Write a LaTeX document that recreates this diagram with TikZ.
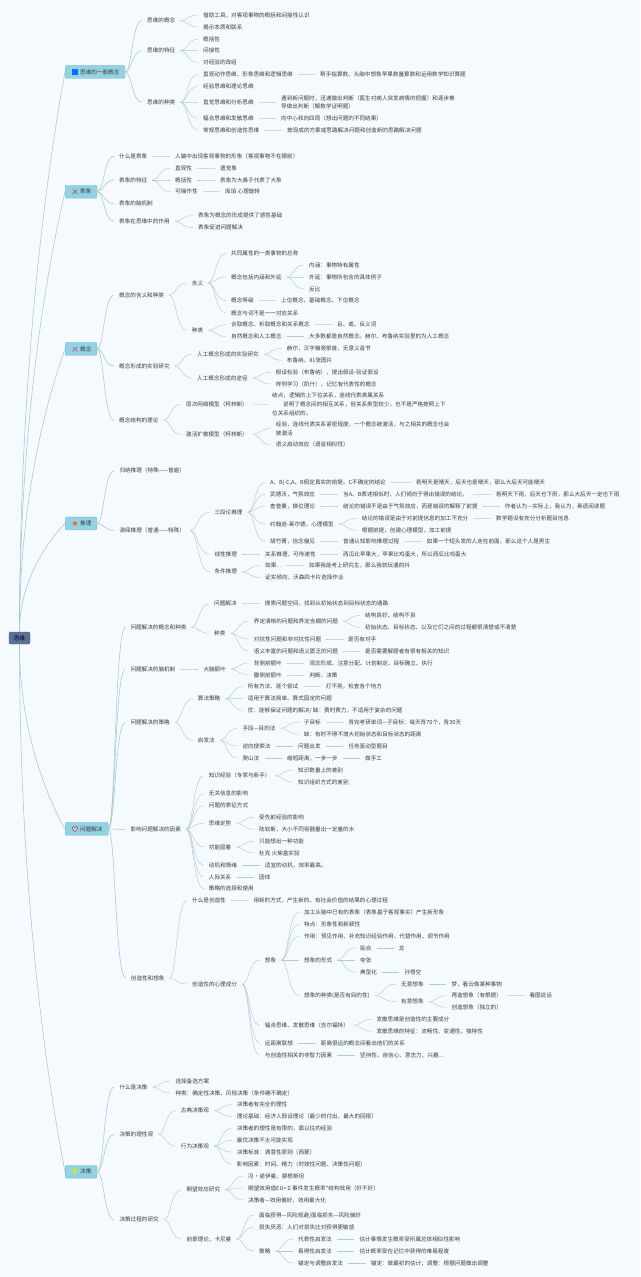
\documentclass[tikz,border=0pt]{standalone}
\usepackage{fontspec}
\setmainfont{Noto Sans CJK SC}
\usetikzlibrary{calc}
\definecolor{bgc}{HTML}{F5FAFF}
\definecolor{conn}{HTML}{B4CBCE}
\definecolor{rootconn}{HTML}{A6C9C6}
\definecolor{boxfill}{HTML}{93D2E3}
\definecolor{boxline}{HTML}{7FBDD0}
\definecolor{rootfill}{HTML}{5A6E96}
\definecolor{txt}{HTML}{3C3C3C}
\tikzset{
  lblbase/.style={anchor=west,inner xsep=5pt,inner ysep=0pt,xshift=-5pt,
    font=\fontsize{5.6}{8.7}\selectfont,text=txt},
  lbl/.style={lblbase,text height=4.8pt,text depth=0.8pt},
  lblmulti/.style={lblbase,align=left},
  topicbox/.style={anchor=west,inner sep=0pt,minimum height=12.8pt,fill=boxfill,draw=boxline,line width=0.3pt,
    rounded corners=1pt,font=\fontsize{5.6}{7}\selectfont,text=txt},
  rootbox/.style={anchor=center,inner sep=0pt,minimum width=21pt,minimum height=12pt,fill=rootfill,draw=rootfill,
    rounded corners=1.2pt,font=\fontsize{5.6}{7}\selectfont,text=black!80!blue},
  link/.style={draw=conn,line width=0.45pt},
  rootlink/.style={draw=rootconn,line width=0.55pt}
}
\newcommand{\N}[4]{\node[lbl] (#1) at (#2,#3) {#4};}
\newcommand{\NM}[4]{\node[lblmulti] (#1) at (#2,#3) {#4};}
\newcommand{\B}[3]{\node[topicbox] (#1) at (65,#2) {\hspace*{15pt}#3\hspace*{5.7pt}};}
\newcommand{\C}[2]{\draw[link] (#1.east) .. controls ($(#1.east)!0.4!(#2.west |- #1.east)$) and ($(#1.east |- #2.west)!0.4!(#2.west)$) .. (#2.west);}
\newcommand{\BC}[2]{\draw[rootlink] (#1.east) .. controls ($(#1.east)!0.4!(#2.west |- #1.east)$) and ($(#1.east |- #2.west)!0.4!(#2.west)$) .. (#2.west);}
\newcommand{\R}[2]{%
  \coordinate (h1) at ($(root.#1)!0.55!(#2.west)$);
  \coordinate (h2) at ($(root.#1)!0.8!(#2.west)$);
  \coordinate (h3) at ($(root.#1)!0.45!(#2.west)$);
  \draw[rootlink] (root.#1) .. controls (root.#1 |- h3) and (h1 |- h2) .. (#2.west);}
\begin{document}
\begin{tikzpicture}[x=1pt,y=-1pt]
\useasboundingbox (0,0) rectangle (640,1277);
\fill[bgc] (0,0) rectangle (640,1277);

\node[rootbox] (root) at (19.5,638) {思维};
\B{bxa}{72}{思维的一般概念}
\B{bxb}{191.7}{表象}
\B{bxc}{349}{概念}
\B{bxd}{523.5}{推理}
\B{bxe}{829}{问题解决}
\B{bxf}{1171.7}{决策}
\R{north}{bxa}\R{north}{bxb}\R{north}{bxc}\R{north}{bxd}\R{south}{bxe}\R{south}{bxf}

% icons
\fill[blue!55!cyan] (72,69) rectangle (77.6,74.8);
\draw[red!35!gray!90!black,line width=0.6pt] (72.5,194) -- (77.5,189.5) (73,189.5) -- (77.5,194);
\draw[magenta!70!gray,line width=0.6pt] (72.5,351.5) -- (77.5,347) (73,347) -- (77.5,351.5);
\fill[orange!75!red,shift={(75,523.3)}] (0,-3) -- (0.71,-0.97) -- (2.85,-0.93) -- (1.14,0.37) -- (1.76,2.43) -- (0,1.2) -- (-1.76,2.43) -- (-1.14,0.37) -- (-2.85,-0.93) -- (-0.71,-0.97) -- cycle;
\draw[red!40!black!70,fill=gray!40,line width=0.5pt,shift={(75,829)}] (0,2.6) .. controls (-3.6,0) and (-3.2,-2.6) .. (-1.4,-2.6) .. controls (-0.6,-2.6) and (0,-2) .. (0,-1.5) .. controls (0,-2) and (0.6,-2.6) .. (1.4,-2.6) .. controls (3.2,-2.6) and (3.6,0) .. (0,2.6) -- cycle;
\fill[yellow!75!green!80!white] (75,1170.8) circle (2.5);
\fill[yellow!60!green!70!white] (73.8,1172.5) rectangle (76.2,1175);

% ===== 思维的一般概念
\N{a1}{147}{20.7}{思维的概念}
\N{a11}{203}{15}{借助工具，对客观事物的概括和间接性认识}
\N{a12}{203}{27}{揭示本质和联系}
\N{a2}{147}{50.7}{思维的特征}
\N{a21}{203}{39}{概括性}
\N{a22}{203}{50.7}{间接性}
\N{a23}{203}{62.3}{对经验的改组}
\N{a3}{147}{102.3}{思维的种类}
\N{a31}{203}{74.3}{直观动作思维、形象思维和逻辑思维}
\N{a31r}{320}{74.3}{帮手指算数、头脑中想象苹果数量算数和运用数学知识算题}
\N{a32}{203}{86.3}{经验思维和理论思维}
\N{a33}{203}{102.3}{直觉思维和分析思维}
\NM{a33r}{281}{102.3}{遇到新问题时，迅速做出判断（医生对病人突发病情的把握）和逐步推\\导做出判断（解数学证明题）}
\N{a34}{203}{118.3}{辐合思维和发散思维}
\N{a34r}{281}{118.3}{向中心和向四周（想出问题的不同结果）}
\N{a35}{203}{130.3}{常规思维和创造性思维}
\N{a35r}{287}{130.3}{按现成的方案或思路解决问题和创造新的思路解决问题}
\BC{bxa}{a1}\BC{bxa}{a2}\BC{bxa}{a3}
\C{a1}{a11}\C{a1}{a12}\C{a2}{a21}\C{a2}{a22}\C{a2}{a23}
\C{a3}{a31}\C{a3}{a32}\C{a3}{a33}\C{a3}{a34}\C{a3}{a35}
\C{a31}{a31r}\C{a33}{a33r}\C{a34}{a34r}\C{a35}{a35r}

% ===== 表象
\N{b1}{119}{156.3}{什么是表象}
\N{b1r}{175}{156.3}{人脑中出现客观事物的形象（客观事物不在眼前）}
\N{b2}{119}{180}{表象的特征}
\N{b21}{175}{168.3}{直观性}
\N{b21r}{220}{168.3}{遗觉象}
\N{b22}{175}{180}{概括性}
\N{b22r}{220}{180}{表象为大鼻子代表了大象}
\N{b23}{175}{191.7}{可操作性}
\N{b23r}{225}{191.7}{库珀 心理旋转}
\N{b3}{119}{203.7}{表象的脑机制}
\N{b4}{119}{221.3}{表象在思维中的作用}
\N{b41}{198}{215.7}{表象为概念的形成提供了感性基础}
\N{b42}{198}{227.7}{表象促进问题解决}
\BC{bxb}{b1}\BC{bxb}{b2}\BC{bxb}{b3}\BC{bxb}{b4}
\C{b1}{b1r}\C{b2}{b21}\C{b2}{b22}\C{b2}{b23}\C{b21}{b21r}\C{b22}{b22r}\C{b23}{b23r}\C{b4}{b41}\C{b4}{b42}

% ===== 概念
\N{c1}{119}{295}{概念的含义和种类}
\N{c11}{191.7}{283}{含义}
\N{c111}{231}{253.3}{共同属性的一类事物的总称}
\N{c112}{231}{277}{概念包括内涵和外延}
\N{c1121}{309}{265}{内涵：事物特有属性}
\N{c1122}{309}{277}{外延：事物所包含的具体例子}
\N{c1123}{309}{289}{反比}
\N{c113}{231}{300.7}{概念等级}
\N{c113r}{281}{300.7}{上位概念、基础概念、下位概念}
\N{c114}{231}{313}{概念与词不是一一对应关系}
\N{c12}{191.7}{330.3}{种类}
\N{c121}{231}{324.7}{合取概念、析取概念和关系概念}
\N{c121r}{337}{324.7}{且、或、反义词}
\N{c122}{231}{336.5}{自然概念和人工概念}
\N{c122r}{309}{336.5}{大多数都是自然概念。赫尔、布鲁纳实验里的为人工概念}
\N{c2}{119}{366}{概念形成的实验研究}
\N{c21}{197}{354.3}{人工概念形成的实验研究}
\N{c211}{286.7}{348.3}{赫尔，汉字偏旁部首，无意义音节}
\N{c212}{286.7}{360.3}{布鲁纳，81张图片}
\N{c22}{197}{378}{人工概念形成的途径}
\N{c221}{275.7}{372.3}{假设检验（布鲁纳），提出假设-验证假设}
\N{c222}{275.7}{384}{样例学习（凯什），记忆有代表性的概念}
\N{c3}{119}{420.3}{概念结构的理论}
\N{c31}{186}{404}{层次网络模型（柯林斯）}
\NM{c31r}{272}{404.4}{结点，逻辑的上下位关系，连线代表类属关系\\\hspace*{11pt}说明了概念间的相互关系，但关系类型较少，也不是严格按照上下\\位关系组织的。}
\N{c32}{186}{434.3}{激活扩散模型（柯林斯）}
\NM{c321}{275.7}{428.5}{经验，连线代表关系紧密程度，一个概念被激活，与之相关的概念也会\\被激活}
\N{c322}{275.7}{444.7}{语义启动效应（语音相似性）}
\BC{bxc}{c1}\BC{bxc}{c2}\BC{bxc}{c3}
\C{c1}{c11}\C{c1}{c12}\C{c11}{c111}\C{c11}{c112}\C{c11}{c113}\C{c11}{c114}
\C{c112}{c1121}\C{c112}{c1122}\C{c112}{c1123}\C{c113}{c113r}
\C{c12}{c121}\C{c12}{c122}\C{c121}{c121r}\C{c122}{c122r}
\C{c2}{c21}\C{c2}{c22}\C{c21}{c211}\C{c21}{c212}\C{c22}{c221}\C{c22}{c222}
\C{c3}{c31}\C{c3}{c32}\C{c31}{c31r}\C{c32}{c321}\C{c32}{c322}

% ===== 推理
\N{d1}{119.3}{470.7}{归纳推理（特殊——普遍）}
\N{d2}{119.3}{530.3}{演绎推理（普通——特殊）}
\N{d21}{214.3}{512.3}{三段论推理}
\N{d211}{270}{482.7}{A、B) C,A、B假定真实的前提。C不确定的结论}
\N{d211r}{416}{482.7}{若明天是晴天，后天也是晴天，那么大后天可能晴天}
\N{d212}{270}{494.3}{武德沃，气氛效应}
\N{d212a}{343}{494.3}{当A、B表述相似时，人们倾向于得出错误的结论。}
\N{d212b}{496}{494.3}{若明天下雨，后天也下雨，那么大后天一定也下雨}
\N{d213}{270}{506}{查普曼，换位理论}
\N{d213a}{343}{506}{结论的错误不是由于气氛效应，而是错误的解释了前提}
\N{d213b}{504.7}{506}{作者认为—实际上，我认为，英语阅读题}
\N{d214}{270}{524}{约翰逊-莱尔德，心理模型}
\N{d2141}{361.7}{518.3}{结论的错误是由于对前提信息的加工不充分}
\N{d2141r}{496}{518.3}{数学题没有充分分析题目信息}
\N{d2142}{361.7}{530.3}{根据前提，创建心理模型，加工前提}
\N{d215}{270}{541.7}{胡竹菁，信念偏见}
\N{d215a}{343}{541.7}{普通认知影响推理过程}
\N{d215b}{426.7}{541.7}{如果一个短头发的人走在前面，那么这个人是男生}
\N{d22}{214.3}{554}{线性推理}
\N{d22a}{265}{554}{关系推理，可传递性}
\N{d22b}{343}{554}{西瓜比苹果大，苹果比鸡蛋大，所以西瓜比鸡蛋大}
\N{d23}{214.3}{571.7}{条件推理}
\N{d231}{265}{565.7}{如果...}
\N{d231r}{309}{565.7}{如果我能考上研究生，那么我就玩通的抖}
\N{d232}{265}{577.5}{证实倾向，沃森四卡片选择作业}
\BC{bxd}{d1}\BC{bxd}{d2}
\C{d2}{d21}\C{d2}{d22}\C{d2}{d23}
\C{d21}{d211}\C{d21}{d212}\C{d21}{d213}\C{d21}{d214}\C{d21}{d215}
\C{d211}{d211r}\C{d212}{d212a}\C{d212a}{d212b}\C{d213}{d213a}\C{d213a}{d213b}
\C{d214}{d2141}\C{d214}{d2142}\C{d2141}{d2141r}\C{d215}{d215a}\C{d215a}{d215b}
\C{d22}{d22a}\C{d22a}{d22b}\C{d23}{d231}\C{d23}{d232}\C{d231}{d231r}

% ===== 问题解决
\N{e1}{130.3}{627.3}{问题解决的概念和种类}
\N{e11}{214}{603.7}{问题解决}
\N{e11r}{264.7}{603.7}{搜索问题空间，找到从初始状态到目标状态的通路}
\N{e12}{214}{633.3}{种类}
\N{e121}{253.7}{621.3}{界定清晰的问题和界定含糊的问题}
\N{e1211}{365}{615.3}{结构良好、结构不良}
\N{e1212}{365}{627.3}{初始状态、目标状态、以及它们之间的过程都很清楚或不清楚}
\N{e122}{253.7}{639}{对抗性问题和非对抗性问题}
\N{e122r}{348}{639}{是否有对手}
\N{e123}{253.7}{651}{语义丰富的问题和语义匮乏的问题}
\N{e123r}{365}{651}{是否需要解题者有很有相关的知识}
\N{e2}{130.3}{669}{问题解决的脑机制}
\N{e21}{203.3}{669}{大脑额叶}
\N{e211}{253.7}{663}{背侧前额叶}
\N{e211r}{309.3}{663}{观念形成、注意分配、计划制定、目标确立、执行}
\N{e212}{253.7}{675}{腹侧前额叶}
\N{e212r}{309.3}{675}{判断、决策}
\N{e3}{130.3}{722.3}{问题解决的策略}
\N{e31}{197.7}{698.7}{算法策略}
\N{e311}{247.7}{686.7}{所有方法、逐个尝试}
\N{e311r}{325.7}{686.7}{灯不亮，检查各个地方}
\N{e312}{247.7}{698.7}{适用于算法简单、算式固定的问题}
\N{e313}{247.7}{710.3}{优：能够保证问题的解决/ 缺：费时费力，不适用于复杂的问题}
\N{e32}{197.7}{740.3}{启发法}
\N{e321}{242.3}{728.3}{手段—目的法}
\N{e3211}{303.7}{722.3}{子目标}
\N{e3211r}{348.3}{722.3}{背完考研单词—子目标：每天背70个，背30天}
\N{e3212}{303.7}{734.3}{缺：有时不得不增大初始状态和目标状态的距离}
\N{e322}{242.3}{746}{逆向搜索法}
\N{e322a}{298}{746}{问题出发}
\N{e322b}{348.3}{746}{任务驱动型题目}
\N{e323}{242.3}{758}{爬山法}
\N{e323a}{287}{758}{缩短距离，一步一步}
\N{e323b}{365}{758}{做手工}
\N{e4}{130.3}{829.3}{影响问题解决的因素}
\N{e41}{208.7}{775.7}{知识经验（专家与新手）}
\N{e411}{298}{770}{知识数量上的差别}
\N{e412}{298}{782}{知识组织方式的差别}
\N{e42}{208.7}{793.7}{无关信息的影响}
\N{e43}{208.7}{805.7}{问题的表征方式}
\N{e44}{208.7}{823.3}{思维定势}
\N{e441}{259}{817.3}{受先前经验的影响}
\N{e442}{259}{829.3}{陆钦斯，大小不同容器量出一定量的水}
\N{e45}{208.7}{847}{功能固着}
\N{e451}{259}{841.3}{只能想出一种功能}
\N{e452}{259}{853}{杜克 火柴盒实验}
\N{e46}{208.7}{865}{动机和情绪}
\N{e46r}{264.7}{865}{适宜的动机，效率最高。}
\N{e47}{208.7}{877}{人际关系}
\N{e47r}{259}{877}{团体}
\N{e48}{208.7}{888.7}{策略的选择和使用}
\N{e5}{130.7}{978}{创造性和想象}
\N{e51}{192}{900.3}{什么是创造性}
\N{e51r}{253.3}{900.3}{用新的方式，产生新的、有社会价值的结果的心理过程}
\N{e52}{192}{984}{创造性的心理成分}
\N{e521}{264.7}{960}{想象}
\N{e5211}{304}{912.3}{加工头脑中已有的表象（表象基于客观事实）产生新形象}
\N{e5212}{304}{924.3}{特点：形象性和新颖性}
\N{e5213}{304}{936.3}{作用：预见作用、补充知识经验作用、代替作用、调节作用}
\N{e5214}{304}{960}{想象的形式}
\N{e52141}{360}{948}{贴合}
\N{e52141r}{398.7}{948}{龙}
\N{e52142}{360}{960}{夸张}
\N{e52143}{360}{972}{典型化}
\N{e52143r}{404.3}{972}{孙悟空}
\N{e5215}{304}{995.7}{想象的种类(是否有目的性)}
\N{e52151}{401}{984}{无意想象}
\N{e52151r}{451.3}{984}{梦，看云像某种事物}
\N{e52152}{401}{1001.7}{有意想象}
\N{e521521}{451.3}{995.7}{再造想象（有根据）}
\N{e521521r}{529.3}{995.7}{看图说话}
\N{e521522}{451.3}{1007.3}{创造想象（独立的）}
\N{e522}{264.7}{1025.3}{辐合思维、发散思维（吉尔福特）}
\N{e5221}{376.3}{1019.3}{发散思维是创造性的主要成分}
\N{e5222}{376.3}{1031.3}{发散思维的特征：流畅性、变通性、独特性}
\N{e523}{264.7}{1043}{远距离联想}
\N{e523r}{320.7}{1043}{距离很远的概念间看出他们的关系}
\N{e524}{264.7}{1055}{与创造性相关的非智力因素}
\N{e524r}{360}{1055}{坚持性、自信心、意志力、兴趣...}
\BC{bxe}{e1}\BC{bxe}{e2}\BC{bxe}{e3}\BC{bxe}{e4}\BC{bxe}{e5}
\C{e1}{e11}\C{e1}{e12}\C{e11}{e11r}\C{e12}{e121}\C{e12}{e122}\C{e12}{e123}
\C{e121}{e1211}\C{e121}{e1212}\C{e122}{e122r}\C{e123}{e123r}
\C{e2}{e21}\C{e21}{e211}\C{e21}{e212}\C{e211}{e211r}\C{e212}{e212r}
\C{e3}{e31}\C{e3}{e32}\C{e31}{e311}\C{e31}{e312}\C{e31}{e313}\C{e311}{e311r}
\C{e32}{e321}\C{e32}{e322}\C{e32}{e323}\C{e321}{e3211}\C{e321}{e3212}\C{e3211}{e3211r}
\C{e322}{e322a}\C{e322a}{e322b}\C{e323}{e323a}\C{e323a}{e323b}
\C{e4}{e41}\C{e4}{e42}\C{e4}{e43}\C{e4}{e44}\C{e4}{e45}\C{e4}{e46}\C{e4}{e47}\C{e4}{e48}
\C{e41}{e411}\C{e41}{e412}\C{e44}{e441}\C{e44}{e442}\C{e45}{e451}\C{e45}{e452}\C{e46}{e46r}\C{e47}{e47r}
\C{e5}{e51}\C{e5}{e52}\C{e51}{e51r}
\C{e52}{e521}\C{e52}{e522}\C{e52}{e523}\C{e52}{e524}
\C{e521}{e5211}\C{e521}{e5212}\C{e521}{e5213}\C{e521}{e5214}\C{e521}{e5215}
\C{e5214}{e52141}\C{e5214}{e52142}\C{e5214}{e52143}\C{e52141}{e52141r}\C{e52143}{e52143r}
\C{e5215}{e52151}\C{e5215}{e52152}\C{e52151}{e52151r}\C{e52152}{e521521}\C{e52152}{e521522}\C{e521521}{e521521r}
\C{e522}{e5221}\C{e522}{e5222}\C{e523}{e523r}\C{e524}{e524r}

% ===== 决策
\N{f1}{119.3}{1087}{什么是决策}
\N{f11}{175.3}{1081}{选择备选方案}
\N{f12}{175.3}{1093}{种类：确定性决策、风险决策（条件确不确定）}
\N{f2}{119.3}{1134.3}{决策的理性观}
\N{f21}{180.7}{1110.7}{古典决策观}
\N{f211}{236.7}{1104.7}{决策者有完全的理性}
\N{f212}{236.7}{1116.7}{理论基础：经济人假设理论（最少的付出，最大的回报）}
\N{f22}{180.7}{1146}{行为决策观}
\N{f221}{236.7}{1128.3}{决策者的理性是有限的，靠以往的经验}
\N{f222}{236.7}{1140.3}{最优决策不太可能实现}
\N{f223}{236.7}{1152}{决策标准：满意性原则（西蒙）}
\N{f224}{236.7}{1164}{影响因素：时间、精力（时效性问题、决策性问题）}
\N{f3}{119.3}{1219.7}{决策过程的研究}
\N{f31}{186.3}{1189.7}{期望效应研究}
\N{f311}{248}{1176}{冯•诺伊曼、摩根斯坦}
\N{f312}{248}{1188}{期望效用值EU=∑事件发生概率*结构效用（好不好）}
\N{f313}{248}{1200}{决策者—效用偏好、效用最大化}
\N{f32}{186.3}{1239}{前景理论，卡尼曼}
\N{f321}{259}{1215}{面临获得—风险规避/面临损失—风险偏好}
\N{f322}{259}{1227}{损失厌恶：人们对损失比对获得更敏感}
\N{f323}{259}{1251}{策略}
\N{f3231}{298}{1239}{代表性启发法}
\N{f3231r}{359.3}{1239}{估计事情发生概率受所属总体相似性影响}
\N{f3232}{298}{1251}{易得性启发法}
\N{f3232r}{359.3}{1251}{估计概率受在记忆中获得的难易程度}
\N{f3233}{298}{1263}{锚定与调整启发法}
\N{f3233r}{370.7}{1263}{锚定：做最初的估计；调整：根据问题做出调整}
\BC{bxf}{f1}\BC{bxf}{f2}\BC{bxf}{f3}
\C{f1}{f11}\C{f1}{f12}\C{f2}{f21}\C{f2}{f22}\C{f21}{f211}\C{f21}{f212}
\C{f22}{f221}\C{f22}{f222}\C{f22}{f223}\C{f22}{f224}
\C{f3}{f31}\C{f3}{f32}\C{f31}{f311}\C{f31}{f312}\C{f31}{f313}
\C{f32}{f321}\C{f32}{f322}\C{f32}{f323}
\C{f323}{f3231}\C{f323}{f3232}\C{f323}{f3233}\C{f3231}{f3231r}\C{f3232}{f3232r}\C{f3233}{f3233r}
\end{tikzpicture}
\end{document}
